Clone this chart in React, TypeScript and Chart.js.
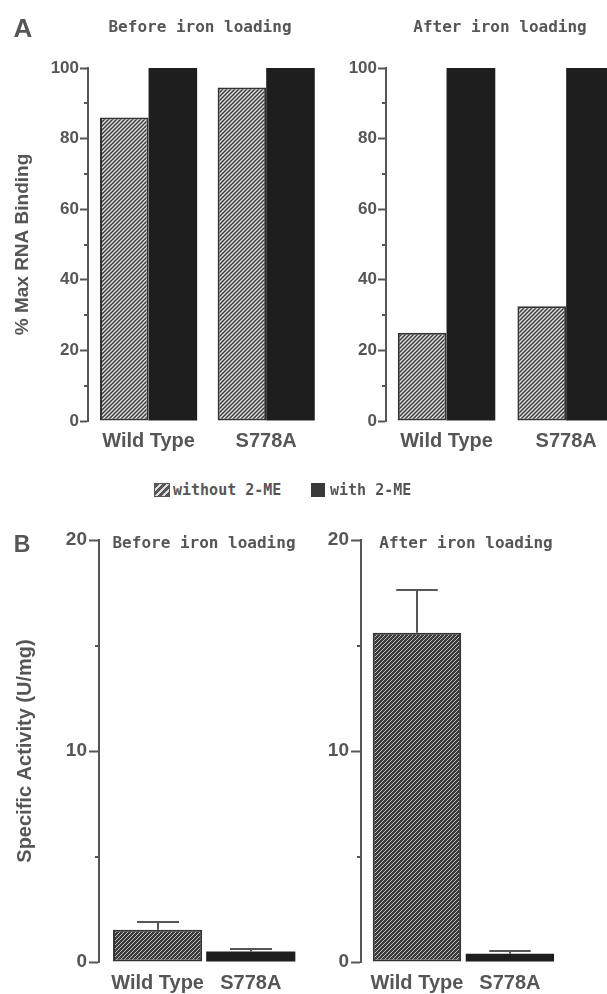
import React, { useEffect, useRef } from 'react';
import { Chart, registerables } from 'chart.js';

Chart.register(...registerables);

// ---------------- data ----------------
const categories = ['Wild Type', 'S778A'];
const seriesNames = ['without 2-ME', 'with 2-ME'];
const panelTitles = ['Before iron loading', 'After iron loading'];
const panelLetters = ['A', 'B'];
const rnaAxisTitle = '% Max RNA Binding';
const activityAxisTitle = 'Specific Activity (U/mg)';

const rnaBeforeWithout = [86, 94.5];
const rnaBeforeWith = [100, 100];
const rnaAfterWithout = [25, 32.5];
const rnaAfterWith = [100, 100];

const activityBefore = [1.53, 0.5];
const activityBeforeErr = [0.35, 0.13];
const activityAfter = [15.6, 0.39];
const activityAfterErr = [2.04, 0.11];

const rnaTicks = [0, 20, 40, 60, 80, 100];
const activityTicks = [0, 10, 20];

// ---------------- styles ----------------
const GRAY = '#565656';
const BLACK = '#1e1e1e';
const SANS = '"Liberation Sans", Arial, Helvetica, sans-serif';
const MONO = '"DejaVu Sans Mono", monospace';

function makeHatch(ctx: CanvasRenderingContext2D, bg: string, fg: string, lw: number, size = 4) {
  const c = document.createElement('canvas');
  c.width = size;
  c.height = size;
  const g = c.getContext('2d')!;
  g.fillStyle = bg;
  g.fillRect(0, 0, size, size);
  g.strokeStyle = fg;
  g.lineWidth = lw;
  g.beginPath();
  g.moveTo(0, size);
  g.lineTo(size, 0);
  g.moveTo(-1, 1);
  g.lineTo(1, -1);
  g.moveTo(size - 1, size + 1);
  g.lineTo(size + 1, size - 1);
  g.stroke();
  return ctx.createPattern(c, 'repeat') as CanvasPattern;
}

const errorBarPlugin = {
  id: 'errorBars',
  afterDatasetsDraw(chart: any, _args: any, opts: any) {
    const errs: number[] | undefined = opts && opts.errors;
    if (!errs || !errs.length) return;
    const meta = chart.getDatasetMeta(0);
    const ys = chart.scales.y;
    const data = chart.data.datasets[0].data;
    const ctx = chart.ctx;
    ctx.save();
    ctx.strokeStyle = GRAY;
    ctx.lineWidth = 2;
    meta.data.forEach((bar: any, i: number) => {
      const e = errs[i];
      if (!e) return;
      const top = Math.round(ys.getPixelForValue(data[i].y + e));
      const half = (bar.width * 0.47) / 2;
      const x = Math.round(bar.x);
      ctx.beginPath();
      ctx.moveTo(x, bar.y);
      ctx.lineTo(x, top);
      ctx.moveTo(x - half, top);
      ctx.lineTo(x + half, top);
      ctx.stroke();
    });
    ctx.restore();
  },
};

const minorTickPlugin = {
  id: 'minorTicks',
  afterDraw(chart: any, _args: any, opts: any) {
    const s = chart.scales.y;
    const len = (opts && opts.length) || 4;
    const ctx = chart.ctx;
    const x = chart.chartArea.left;
    ctx.save();
    ctx.strokeStyle = GRAY;
    ctx.lineWidth = 2;
    for (let i = 0; i < s.ticks.length - 1; i++) {
      const v = (s.ticks[i].value + s.ticks[i + 1].value) / 2;
      const y = Math.round(s.getPixelForValue(v));
      ctx.beginPath();
      ctx.moveTo(x - len, y);
      ctx.lineTo(x, y);
      ctx.stroke();
    }
    ctx.restore();
  },
};

type PanelProps = {
  left: number;
  top: number;
  width: number;
  height: number;
  yWidth: number;
  xHeight: number;
  padTop: number;
  xMin: number;
  xMax: number;
  yMax: number;
  yTicks: number[];
  yTitle?: string;
  yTitlePad: number;
  yTickSize: number;
  yTickLen: number;
  yTickPad: number;
  yTitleSize: number;
  xTickSize: number;
  xTickPad: number;
  catPct: number;
  minorLen: number;
  build: (ctx: CanvasRenderingContext2D) => any[];
  errors?: number[];
};

function Panel(p: PanelProps) {
  const ref = useRef<HTMLCanvasElement | null>(null);
  useEffect(() => {
    const canvas = ref.current!;
    const ctx = canvas.getContext('2d')!;
    const datasets = p.build(ctx).map((d) => ({
      ...d,
      categoryPercentage: p.catPct,
      barPercentage: 1,
      borderSkipped: false,
    }));
    const chart = new Chart(canvas, {
      type: 'bar',
      data: { datasets },
      options: {
        responsive: false,
        animation: false,
        devicePixelRatio: 1,
        layout: { padding: { top: p.padTop, left: 0, right: 0, bottom: 0 } },
        plugins: {
          legend: { display: false },
          tooltip: { enabled: false },
          title: { display: false },
          errorBars: { errors: p.errors || [] },
          minorTicks: { length: p.minorLen },
        } as any,
        scales: {
          x: {
            type: 'linear',
            min: p.xMin,
            max: p.xMax,
            offset: false,
            grid: { display: false, drawTicks: false, offset: false },
            border: { display: false },
            afterBuildTicks: (s: any) => {
              s.ticks = categories.map((_, i) => ({ value: i + 1 }));
            },
            afterFit: (s: any) => {
              s.height = p.xHeight;
            },
            ticks: {
              autoSkip: false,
              maxRotation: 0,
              padding: p.xTickPad,
              color: GRAY,
              font: { family: SANS, size: p.xTickSize, weight: 'bold' },
              callback: (v: any) => categories[Math.round(Number(v)) - 1] ?? '',
            },
          },
          y: {
            type: 'linear',
            min: 0,
            max: p.yMax,
            grid: {
              drawOnChartArea: false,
              drawTicks: true,
              tickLength: p.yTickLen,
              tickWidth: 2,
              tickColor: GRAY,
            },
            border: { display: true, color: GRAY, width: 2 },
            afterBuildTicks: (s: any) => {
              s.ticks = p.yTicks.map((v) => ({ value: v }));
            },
            afterFit: (s: any) => {
              s.width = p.yWidth;
            },
            ticks: {
              autoSkip: false,
              padding: p.yTickPad,
              color: GRAY,
              font: { family: SANS, size: p.yTickSize, weight: 'bold' },
            },
            title: p.yTitle
              ? {
                  display: true,
                  text: p.yTitle,
                  color: GRAY,
                  font: { family: SANS, size: p.yTitleSize, weight: 'bold' },
                  padding: { top: p.yTitlePad, bottom: 0 },
                }
              : { display: false },
          },
        },
      } as any,
      plugins: [errorBarPlugin, minorTickPlugin],
    });
    return () => chart.destroy();
  }, []);
  return (
    <canvas
      ref={ref}
      width={p.width}
      height={p.height}
      style={{ position: 'absolute', left: p.left, top: p.top, width: p.width, height: p.height }}
    />
  );
}

function Text(props: { x: number; y: number; size: number; family: string; text: string; anchor?: 'center' | 'left' }) {
  const { x, y, size, family, text, anchor = 'center' } = props;
  return (
    <div
      style={{
        position: 'absolute',
        left: x,
        top: y,
        transform: anchor === 'center' ? 'translate(-50%, -50%)' : 'translate(0, -50%)',
        whiteSpace: 'nowrap',
        fontFamily: family,
        fontWeight: 'bold',
        fontSize: size,
        lineHeight: 1,
        color: GRAY,
      }}
    >
      {text}
    </div>
  );
}

const hatchA = (ctx: CanvasRenderingContext2D) => makeHatch(ctx, '#e4e4e4', '#3a3a3a', 1.5);
const hatchB = (ctx: CanvasRenderingContext2D) => makeHatch(ctx, '#3c3c3c', '#bdbdbd', 1);

const rnaDatasets = (without: number[], withMe: number[]) => (ctx: CanvasRenderingContext2D) => [
  {
    label: seriesNames[0],
    data: categories.map((_, i) => ({ x: i + 1, y: without[i] })),
    backgroundColor: hatchA(ctx),
    borderColor: '#333333',
    borderWidth: 2,
  },
  {
    label: seriesNames[1],
    data: categories.map((_, i) => ({ x: i + 1, y: withMe[i] })),
    backgroundColor: BLACK,
    borderColor: BLACK,
    borderWidth: 0,
  },
];

const activityDatasets = (vals: number[]) => (ctx: CanvasRenderingContext2D) => [
  {
    label: 'Specific Activity',
    data: categories.map((_, i) => ({ x: i + 1, y: vals[i] })),
    backgroundColor: [hatchB(ctx), BLACK],
    borderColor: ['#333333', BLACK],
    borderWidth: [2, 0],
  },
];

export default function App() {
  return (
    <div
      style={{
        position: 'absolute',
        left: 0,
        top: 0,
        width: 607,
        height: 994,
        overflow: 'hidden',
        background: '#ffffff',
      }}
    >
      <Panel
        left={0}
        top={0}
        width={325}
        height={470}
        yWidth={88}
        xHeight={49}
        padTop={68}
        xMin={0.485}
        xMax={2.5}
        yMax={100}
        yTicks={rnaTicks}
        yTitle={rnaAxisTitle}
        yTitlePad={11}
        yTickSize={17}
        yTickLen={8}
        yTickPad={1}
        yTitleSize={19}
        xTickSize={20}
        xTickPad={8}
        catPct={0.826}
        minorLen={4}
        build={rnaDatasets(rnaBeforeWithout, rnaBeforeWith)}
      />
      <Panel
        left={300}
        top={0}
        width={326}
        height={470}
        yWidth={86}
        xHeight={49}
        padTop={68}
        xMin={0.494}
        xMax={2.5}
        yMax={100}
        yTicks={rnaTicks}
        yTitlePad={0}
        yTickSize={17}
        yTickLen={8}
        yTickPad={1}
        yTitleSize={19}
        xTickSize={20}
        xTickPad={8}
        catPct={0.815}
        minorLen={4}
        build={rnaDatasets(rnaAfterWithout, rnaAfterWith)}
      />
      <Panel
        left={0}
        top={500}
        width={302}
        height={494}
        yWidth={99}
        xHeight={32}
        padTop={40}
        xMin={0.371}
        xMax={2.55}
        yMax={20}
        yTicks={activityTicks}
        yTitle={activityAxisTitle}
        yTitlePad={13}
        yTickSize={19}
        yTickLen={10}
        yTickPad={2}
        yTitleSize={20}
        xTickSize={20}
        xTickPad={9}
        catPct={0.957}
        minorLen={4}
        build={activityDatasets(activityBefore)}
        errors={activityBeforeErr}
      />
      <Panel
        left={300}
        top={500}
        width={261}
        height={494}
        yWidth={61}
        xHeight={32}
        padTop={40}
        xMin={0.398}
        xMax={2.55}
        yMax={20}
        yTicks={activityTicks}
        yTitlePad={0}
        yTickSize={19}
        yTickLen={10}
        yTickPad={2}
        yTitleSize={20}
        xTickSize={20}
        xTickPad={9}
        catPct={0.95}
        minorLen={4}
        build={activityDatasets(activityAfter)}
        errors={activityAfterErr}
      />

      <Text x={23} y={28} size={26} family={SANS} text={panelLetters[0]} />
      <Text x={22} y={544} size={23} family={SANS} text={panelLetters[1]} />

      <Text x={200} y={27} size={16} family={MONO} text={panelTitles[0]} />
      <Text x={500} y={27} size={16} family={MONO} text={panelTitles[1]} />
      <Text x={204} y={543} size={16} family={MONO} text={panelTitles[0]} />
      <Text x={466} y={543} size={16} family={MONO} text={panelTitles[1]} />

      <div
        style={{
          position: 'absolute',
          left: 154,
          top: 483,
          width: 14,
          height: 12,
          border: `1px solid ${GRAY}`,
          background: `repeating-linear-gradient(135deg, ${GRAY} 0px, ${GRAY} 3px, #dcdcdc 3px, #dcdcdc 5px)`,
        }}
      />
      <Text x={173} y={490} size={15} family={MONO} text={seriesNames[0]} anchor="left" />
      <div style={{ position: 'absolute', left: 311, top: 483, width: 14, height: 14, background: '#3a3a3a' }} />
      <Text x={330} y={490} size={15} family={MONO} text={seriesNames[1]} anchor="left" />
    </div>
  );
}
